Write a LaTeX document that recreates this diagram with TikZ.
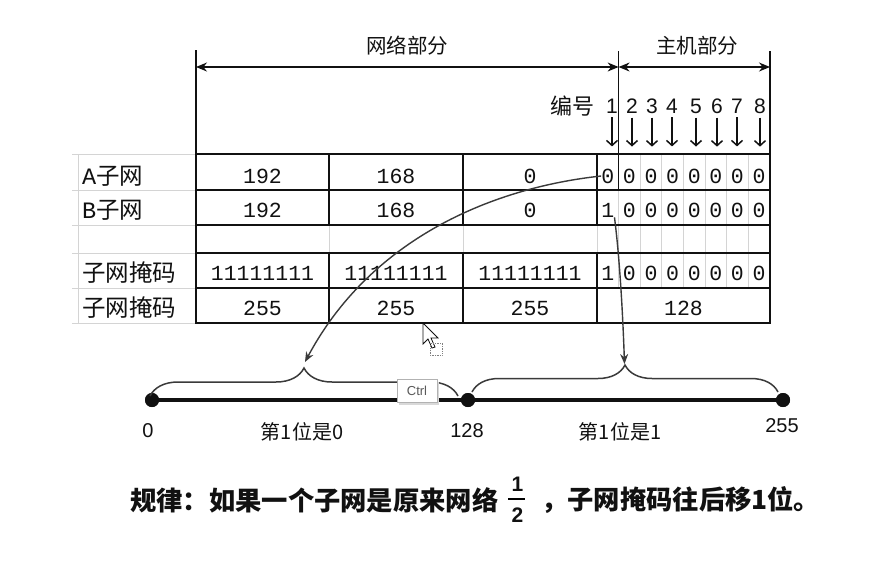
\documentclass[tikz,border=0pt]{standalone}
\usepackage{fontspec}
\usetikzlibrary{arrows.meta,decorations.pathreplacing}
\newfontfamily\cjk{Noto Sans CJK SC}
\newfontfamily\mono{Liberation Mono}
\newfontfamily\arial{Liberation Sans}
\definecolor{gridc}{HTML}{D4D4D4}
\definecolor{ink}{HTML}{111111}
\definecolor{conn}{HTML}{3A3A3A}
\tikzset{
 thickln/.style={line width=2.8pt, draw=ink, line cap=rect},
 gridln/.style={line width=0.8pt, draw=gridc},
 tnum/.style={font=\mono\fontsize{21.5}{24}\selectfont, inner sep=0pt, text=ink},
 rowlbl/.style={font=\cjk\fontsize{23.5}{26}\selectfont, inner sep=0pt, anchor=west, text=ink},
 hdr/.style={font=\cjk\fontsize{20.5}{23}\selectfont, inner sep=0pt, text=ink},
 bitno/.style={font=\arial\fontsize{21}{24}\selectfont, inner sep=0pt, text=ink},
 downarr/.style={line width=1.5pt, draw=ink, -{Straight Barb[length=5pt,width=11pt]}},
 dimarr/.style={line width=1.3pt, draw=ink, {Stealth[length=11pt,width=9pt]}-{Stealth[length=11pt,width=9pt]}},
 guide/.style={line width=1.3pt, draw=ink},
 curvearr/.style={line width=1.4pt, draw=conn, -{Stealth[length=10pt,width=8pt]}},
 bracest/.style={line width=1.5pt, draw=conn, decorate, decoration={brace, amplitude=#1}},
 dotn/.style={circle, fill=ink, inner sep=0pt, minimum size=14pt},
 numln/.style={line width=4pt, draw=ink},
 axnum/.style={font=\arial\fontsize{20}{22}\selectfont, inner sep=0pt, text=ink},
 axlbl/.style={font=\cjk\fontsize{20}{22}\selectfont, inner sep=0pt, text=ink},
 rulet/.style={font=\cjk\bfseries\fontsize{26.3}{29}\selectfont, inner sep=0pt, text=ink},
 fracd/.style={font=\arial\bfseries\fontsize{21}{24}\selectfont, inner sep=0pt, text=ink},
}
\begin{document}
\begin{tikzpicture}[x=1pt,y=-1pt]
\fill[white] (0,0) rectangle (878,566);
\useasboundingbox (0,0) rectangle (878,566);

% ---------- light grid ----------
\foreach \y in {154,190,225,253,288,323} \draw[gridln] (72,\y) -- (196,\y);
\draw[gridln] (78,154) -- (78,323);
\foreach \x in {329,463,597} \draw[gridln] (\x,225) -- (\x,253);
\foreach \k in {1,...,7} \draw[gridln] ({597+21.6*\k},154) -- ({597+21.6*\k},288);

% ---------- thick table lines ----------
\draw[thickln] (196,154) rectangle (770,323);
\foreach \y in {190,225,253,288} \draw[thickln] (196,\y) -- (770,\y);
\foreach \x in {329,463,597} {
  \draw[thickln] (\x,154) -- (\x,225);
  \draw[thickln] (\x,253) -- (\x,323);
}

% ---------- header ----------
\coordinate (nl) at (196,67);
\coordinate (nm) at (618.6,67);
\coordinate (nr) at (770,67);
\coordinate (vlt) at (196,50);
\coordinate (vlb) at (196,154);
\coordinate (vmt) at (618.6,51);
\coordinate (vmb) at (618.6,190);
\coordinate (vrt) at (770,51);
\coordinate (vrb) at (770,154);
\draw[guide] (vlt) -- (vlb);
\draw[guide] (vmt) -- (vmb);
\draw[guide] (vrt) -- (vrb);
\draw[dimarr] (nl) -- (nm);
\draw[dimarr] (nm) -- (nr);
\node[hdr] (net) at (407,46) {网络部分};
\node[hdr] (host) at (697,46) {主机部分};
\node[font=\cjk\fontsize{22}{24}\selectfont, inner sep=0pt, text=ink] (bh) at (572,106) {编号};
\foreach \x [count=\i] in {612,632,652,672,696,717,737,760} {
  \node[bitno] (n\i) at (\x,106) {\i};
  \draw[downarr] ([yshift=-4pt]n\i.south) -- ++(0,29);
}

% ---------- row labels ----------
\node[rowlbl] (la) at (82,176) {{\mono A}子网};
\node[rowlbl] (lb) at (82,210) {{\mono B}子网};
\node[rowlbl] (lm1) at (82,273) {子网掩码};
\node[rowlbl] (lm2) at (82,308) {子网掩码};

% ---------- cell values ----------
\foreach \x/\t [count=\i] in {262.5/192,396/168,530/0} {
  \node[tnum] (ra\i) at (\x,176) {\t};
  \node[tnum] (rb\i) at (\x,210) {\t};
}
\foreach \x [count=\i] in {262.5,396,530} {
  \node[tnum] (rm\i) at (\x,273) {11111111};
  \node[tnum] (rd\i) at (\x,308) {255};
}
\node[tnum] (rd4) at (683.5,308) {128};
\foreach \k in {1,...,8} \node[tnum] (ab\k) at ({597+21.6*(\k-0.5)},176) {0};
\node[tnum] (bb1) at ({597+21.6*0.5},210) {1};
\node[tnum] (mb1) at ({597+21.6*0.5},273) {1};
\foreach \k in {2,...,8} {
  \node[tnum] (bb\k) at ({597+21.6*(\k-0.5)},210) {0};
  \node[tnum] (mb\k) at ({597+21.6*(\k-0.5)},273) {0};
}

% ---------- number line ----------
\node[dotn] (d0) at (152,400) {};
\node[dotn] (d1) at (468,400) {};
\node[dotn] (d2) at (783,400) {};
\draw[numln] (d0.center) -- (d2.center);
\node[dotn] at (d0) {};
\node[dotn] at (d1) {};
\node[dotn] at (d2) {};
\coordinate (bl1) at (150,396);
\coordinate (bl2) at (458,396);
\coordinate (br1) at (472,392);
\coordinate (br2) at (778,392);
\draw[bracest=28pt] (bl1) -- (bl2);
\draw[bracest=27pt] (br1) -- (br2);
\coordinate (lt) at (305,362);
\coordinate (rt) at (624.5,364);

\node[axnum] (a0) at (148,431) {0};
\node[axnum] (a128) at (467,431) {128};
\node[axnum] (a255) at (782,426) {255};
\node[axlbl] (t0) at (302,432) {第1位是0};
\node[axlbl] (t1) at (620,432) {第1位是1};

% ---------- connectors ----------
\draw[curvearr] (ab1.west) .. controls (490,188) and (370,240) .. (lt);
\draw[curvearr] (bb1.south east) .. controls (620,260) and (623,320) .. (rt);

% ---------- screen artefacts ----------
\fill[gray!30] (399,382) rectangle (439,405);
\node[draw=gray!60, fill=white, line width=0.8pt, minimum width=40pt, minimum height=23pt, inner sep=0pt,
      font=\arial\fontsize{13}{15}\selectfont, text=gray!70!black] (ctrl) at (417,391) {Ctrl};
\draw[fill=white, draw=ink, line width=0.8pt] (423,323) -- (423,344) -- (428,339) -- (432,348) -- (435,347) -- (431,338) -- (438,338) -- cycle;
\draw[draw=gray, line width=0.7pt, densely dotted] (430,343) rectangle (442,355);

% ---------- rule text ----------
\node[rulet, anchor=west] (r1) at (130,500) {规律：如果一个子网是原来网络};
\node[fracd] (fn) at (517.5,484) {1};
\node[fracd] (fd) at (517.5,515) {2};
\draw[line width=2.6pt, draw=black] (fn.south west) ++(-3,7.5) -- ++(17,0);
\node[rulet, anchor=west] (r2) at (541,500) {，子网掩码往后移1位。};
\end{tikzpicture}
\end{document}
